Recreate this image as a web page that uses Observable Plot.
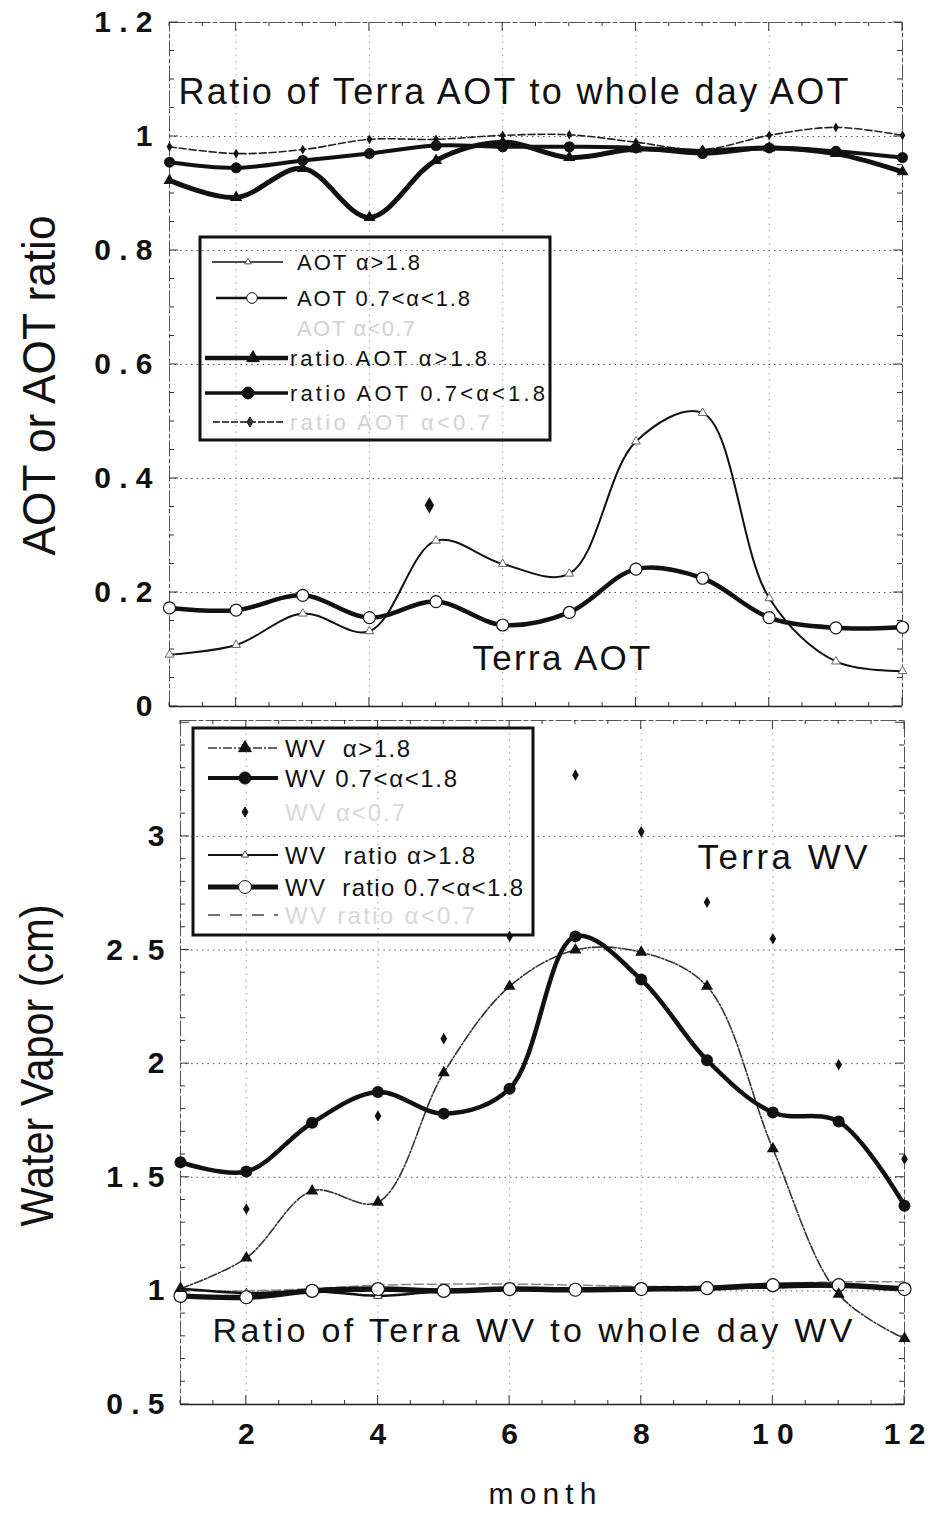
<!DOCTYPE html>
<html>
<head>
<meta charset="utf-8">
<script src="https://cdn.jsdelivr.net/npm/d3@7"></script>
<script src="https://cdn.jsdelivr.net/npm/@observablehq/plot@0.6"></script>
<style>
  html, body { margin: 0; padding: 0; background: #fff; }
  #wrap { position: relative; width: 935px; height: 1513px; overflow: hidden; background: #fff; }
  #top, #bot { position: absolute; left: 0; }
  #top { top: 0; }
  #bot { top: 712px; }
  text { white-space: pre; }
</style>
</head>
<body>
<div id="wrap"><div id="top"></div><div id="bot"></div></div>
<script>
// ---------------- data ----------------
const months = [1, 2, 3, 4, 5, 6, 7, 8, 9, 10, 11, 12];

// upper panel: Terra AOT and ratio of Terra AOT to whole-day AOT
const aotHigh      = [0.091, 0.108, 0.163, 0.132, 0.291, 0.250, 0.233, 0.465, 0.515, 0.190, 0.079, 0.062];
const aotMid       = [0.173, 0.169, 0.195, 0.156, 0.184, 0.143, 0.165, 0.241, 0.225, 0.156, 0.138, 0.139];
const ratioAotHigh = [0.923, 0.893, 0.944, 0.858, 0.958, 0.990, 0.963, 0.978, 0.974, 0.980, 0.970, 0.938];
const ratioAotMid  = [0.955, 0.945, 0.958, 0.970, 0.984, 0.982, 0.982, 0.980, 0.970, 0.980, 0.974, 0.963];
const ratioAotLow  = [0.982, 0.970, 0.977, 0.995, 0.995, 1.002, 1.003, 0.990, 0.977, 1.002, 1.016, 1.002];
const aotLowMonth  = [4.9];
const aotLowValue  = [0.353];

// lower panel: Terra water vapour and ratio of Terra WV to whole-day WV
const wvHigh      = [1.01, 1.145, 1.44, 1.39, 1.96, 2.34, 2.50, 2.49, 2.34, 1.625, 0.985, 0.79];
const wvMid       = [1.566, 1.525, 1.74, 1.875, 1.78, 1.89, 2.56, 2.37, 2.015, 1.785, 1.745, 1.375];
const wvLow       = [null, 1.36, null, 1.77, 2.11, 2.56, 3.27, 3.02, 2.71, 2.55, 1.995, 1.58];
const wvRatioHigh = [1.01, 0.99, 1.0, 0.978, 1.0, 1.005, 1.005, 1.005, 1.01, 1.015, 1.02, 1.015];
const wvRatioMid  = [0.978, 0.972, 1.0, 1.008, 1.0, 1.008, 1.005, 1.008, 1.012, 1.025, 1.025, 1.008];
const wvRatioLow  = [1.0, 1.0, 1.01, 1.025, 1.03, 1.03, 1.025, 1.02, 1.02, 1.03, 1.04, 1.04];

// ticks
const yTicksTop  = [0, 0.2, 0.4, 0.6, 0.8, 1, 1.2];
const yLabelsTop = ["0", "0 . 2", "0 . 4", "0 . 6", "0 . 8", "1", "1 . 2"];
const yTicksBot  = [0.5, 1, 1.5, 2, 2.5, 3];
const yLabelsBot = ["0 . 5", "1", "1 . 5", "2", "2 . 5", "3"];
const xTicks     = [2, 4, 6, 8, 10, 12];
const xLabels    = ["2", "4", "6", "8", "1 0", "1 2"];
const gridMonths = [2, 4, 6, 8, 10];

// texts
const titleTop = "Ratio of Terra AOT to whole day AOT";
const labelTop = "Terra AOT";
const titleBot = "Ratio of Terra WV to whole day WV";
const labelBot = "Terra WV";
const yTitleTop = "AOT or AOT ratio";
const yTitleBot = "Water Vapor (cm)";
const xTitle = "month";

const FONT = "'Liberation Sans', Arial, Helvetica, sans-serif";

function series(vals) {
  return months.map((m, i) => ({month: m, value: vals[i]})).filter(d => d.value != null);
}

// ---------------- decoration helpers ----------------
function frameTicks(plot, yStep, yMajor) {
  const svg = d3.select(plot);
  const sx = plot.scale("x"), sy = plot.scale("y");
  const [xa, xb] = sx.range; const [ya, yb] = sy.range;
  const [d0, d1] = sy.domain;
  const g = svg.append("g").attr("stroke", "#333").attr("stroke-width", 1);
  const n = Math.round((d1 - d0) / yStep);
  for (let i = 0; i <= n; i++) {
    const v = d0 + i * yStep;
    const major = Math.abs(Math.round(v / yMajor) * yMajor - v) < 1e-6;
    const L = major ? 9 : 5;
    const y = sy.apply(v);
    g.append("line").attr("x1", xa).attr("x2", xa + L).attr("y1", y).attr("y2", y);
    g.append("line").attr("x1", xb).attr("x2", xb - L).attr("y1", y).attr("y2", y);
  }
  for (let m = 1; m <= 12.001; m += 0.5) {
    const x = sx.apply(m);
    const L = (m % 2 === 0) ? 9 : 4;
    g.append("line").attr("x1", x).attr("x2", x).attr("y1", ya).attr("y2", ya - L);
    g.append("line").attr("x1", x).attr("x2", x).attr("y1", yb).attr("y2", yb + L);
  }
}

function fitTexts(plot, fits) {
  d3.select(plot).selectAll("text").each(function () {
    const t = this.textContent;
    if (fits[t]) {
      this.setAttribute("textLength", fits[t][0]);
      this.setAttribute("lengthAdjust", fits[t][1]);
    }
  });
}

function boldTicks(plot) {
  d3.select(plot).selectAll('g[aria-label$="tick label"] text').attr("font-weight", "bold");
}

function legend(plot, box, items) {
  const g = d3.select(plot).append("g").attr("text-anchor", "start");
  g.append("rect").attr("x", box.x).attr("y", box.y).attr("width", box.w).attr("height", box.h)
    .attr("fill", "none").attr("stroke", "#111").attr("stroke-width", 3);
  for (const it of items) {
    if (it.line) {
      g.append("line").attr("x1", it.x1).attr("x2", it.x2).attr("y1", it.y).attr("y2", it.y)
        .attr("stroke", it.line.color || "#111").attr("stroke-width", it.line.w)
        .attr("stroke-dasharray", it.line.dash || null);
    }
    if (it.marker) {
      const mk = it.marker;
      const type = {circle: d3.symbolCircle, triangle: d3.symbolTriangle, diamond: d3.symbolDiamond}[mk.shape];
      g.append("path").attr("d", d3.symbol(type, mk.size)())
        .attr("transform", `translate(${it.mx},${it.y})`)
        .attr("fill", mk.fill).attr("stroke", mk.stroke || "#111").attr("stroke-width", mk.sw || 1);
    }
    const t = g.append("text").attr("x", it.tx).attr("y", it.y).attr("dy", "0.36em")
      .attr("text-anchor", "start")
      .attr("font-size", it.fs).attr("fill", it.color || "#111").attr("font-family", FONT)
      .text(it.text);
    if (it.len) t.attr("textLength", it.len).attr("lengthAdjust", "spacing");
  }
}

// ---------------- upper panel ----------------
const topPlot = Plot.plot({
  width: 935, height: 712,
  marginLeft: 169, marginRight: 33, marginTop: 22, marginBottom: 6,
  style: {fontFamily: FONT, fontSize: "30px", background: "transparent", overflow: "visible", color: "#111"},
  x: {domain: [1, 12], axis: null},
  y: {domain: [0, 1.2], ticks: yTicksTop, tickFormat: d => yLabelsTop[yTicksTop.indexOf(d)], tickSize: 0, tickPadding: 17, label: null},
  marks: [
    Plot.ruleY(yTicksTop.slice(1, -1), {stroke: "#555", strokeDasharray: "1.5,4", strokeWidth: 1}),
    Plot.ruleX(gridMonths, {stroke: "#777", strokeDasharray: "1.5,5", strokeWidth: 1, strokeOpacity: 0.7}),
    Plot.frame({stroke: "#555", strokeWidth: 1, strokeDasharray: "16,2,5,2"}),
    Plot.ruleY([0], {stroke: "#222", strokeWidth: 1.5}),
    Plot.text([titleTop], {text: d => d, frameAnchor: "top-left", textAnchor: "start", lineAnchor: "middle", dx: 9, dy: 70, fontSize: 36, fill: "#111"}),
    Plot.text([labelTop], {text: d => d, frameAnchor: "top-left", textAnchor: "start", lineAnchor: "middle", dx: 303, dy: 636, fontSize: 35, fill: "#111"}),
    Plot.text([yTitleTop], {text: d => d, frameAnchor: "left", textAnchor: "middle", lineAnchor: "middle", rotate: -90, dx: -129, dy: 21, fontSize: 46, fill: "#111"}),
    Plot.line(series(aotHigh), {x: "month", y: "value", curve: "catmull-rom", stroke: "#111", strokeWidth: 2}),
    Plot.line(series(aotMid), {x: "month", y: "value", curve: "catmull-rom", stroke: "#111", strokeWidth: 4.5}),
    Plot.line(series(ratioAotLow), {x: "month", y: "value", curve: "catmull-rom", stroke: "#222", strokeWidth: 1.6, strokeDasharray: "7,3"}),
    Plot.line(series(ratioAotHigh), {x: "month", y: "value", curve: "catmull-rom", stroke: "#111", strokeWidth: 5}),
    Plot.line(series(ratioAotMid), {x: "month", y: "value", curve: "catmull-rom", stroke: "#111", strokeWidth: 4}),
    Plot.dot(series(ratioAotLow), {x: "month", y: "value", symbol: "diamond", r: 3, fill: "#111", stroke: "none"}),
    Plot.dot(series(ratioAotHigh), {x: "month", y: "value", symbol: "triangle", r: 4.5, fill: "#111", stroke: "none"}),
    Plot.dot(series(ratioAotMid), {x: "month", y: "value", symbol: "circle", r: 5.5, fill: "#111", stroke: "none"}),
    Plot.dot(series(aotHigh), {x: "month", y: "value", symbol: "triangle", r: 3.2, fill: "white", stroke: "#666", strokeWidth: 1}),
    Plot.dot(series(aotMid), {x: "month", y: "value", symbol: "circle", r: 6, fill: "white", stroke: "#111", strokeWidth: 1.2}),
    Plot.dot(aotLowMonth.map((m, i) => ({month: m, value: aotLowValue[i]})), {x: "month", y: "value", symbol: "diamond", r: 5, fill: "#111", stroke: "none"})
  ]
});
frameTicks(topPlot, 0.05, 0.2);
boldTicks(topPlot);
fitTexts(topPlot, {
  [titleTop]: [670, "spacing"],
  [labelTop]: [178, "spacing"],
  [yTitleTop]: [340, "spacingAndGlyphs"]
});
legend(topPlot, {x: 200, y: 237, w: 350, h: 203}, [
  {y: 262, x1: 212, x2: 283, line: {w: 1.6}, mx: 248, marker: {shape: "triangle", size: 18, fill: "white", stroke: "#555"}, tx: 297, fs: 22, text: "AOT α>1.8", len: 123},
  {y: 298, x1: 216, x2: 287, line: {w: 2.5}, mx: 252, marker: {shape: "circle", size: 90, fill: "white", stroke: "#111"}, tx: 297, fs: 22, text: "AOT 0.7<α<1.8", len: 173},
  {y: 328, tx: 297, fs: 22, text: "AOT α<0.7", color: "#d2d2d2", len: 118},
  {y: 358, x1: 205, x2: 288, line: {w: 4.5}, mx: 253, marker: {shape: "triangle", size: 70, fill: "#111"}, tx: 290, fs: 22, text: "ratio AOT α>1.8", len: 197},
  {y: 393, x1: 205, x2: 288, line: {w: 3.5}, mx: 248, marker: {shape: "circle", size: 110, fill: "#111"}, tx: 290, fs: 22, text: "ratio AOT 0.7<α<1.8", len: 255},
  {y: 422, x1: 213, x2: 283, line: {w: 1.5, dash: "7,2"}, mx: 250, marker: {shape: "diamond", size: 30, fill: "#333"}, tx: 290, fs: 22, text: "ratio AOT α<0.7", color: "#d2d2d2", len: 200}
]);
document.getElementById("top").append(topPlot);

// ---------------- lower panel ----------------
const botPlot = Plot.plot({
  width: 935, height: 801,
  marginLeft: 180, marginRight: 31, marginTop: 8, marginBottom: 109,
  style: {fontFamily: FONT, fontSize: "30px", background: "transparent", overflow: "visible", color: "#111"},
  x: {domain: [1, 12], ticks: xTicks, tickFormat: d => xLabels[xTicks.indexOf(d)], tickSize: 0, tickPadding: 18, label: null},
  y: {domain: [0.5, 3.51], ticks: yTicksBot, tickFormat: d => yLabelsBot[yTicksBot.indexOf(d)], tickSize: 0, tickPadding: 16, label: null},
  marks: [
    Plot.ruleY(yTicksBot.slice(1), {stroke: "#555", strokeDasharray: "1.5,4", strokeWidth: 1}),
    Plot.ruleX(gridMonths, {stroke: "#777", strokeDasharray: "1.5,5", strokeWidth: 1, strokeOpacity: 0.7}),
    Plot.frame({stroke: "#555", strokeWidth: 1, strokeDasharray: "16,2,5,2"}),
    Plot.ruleY([0.5], {stroke: "#222", strokeWidth: 1.5}),
    Plot.text([labelBot], {text: d => d, frameAnchor: "top-left", textAnchor: "start", lineAnchor: "middle", dx: 517, dy: 137, fontSize: 35, fill: "#111"}),
    Plot.text([titleBot], {text: d => d, frameAnchor: "top-left", textAnchor: "start", lineAnchor: "middle", dx: 32, dy: 611, fontSize: 34, fill: "#111"}),
    Plot.text([yTitleBot], {text: d => d, frameAnchor: "left", textAnchor: "middle", lineAnchor: "middle", rotate: -90, dx: -142, dy: 3, fontSize: 46, fill: "#111"}),
    Plot.text([xTitle], {text: d => d, frameAnchor: "bottom", textAnchor: "middle", lineAnchor: "middle", dx: 0, dy: 90, fontSize: 30, fill: "#111"}),
    Plot.line(series(wvRatioLow), {x: "month", y: "value", curve: "catmull-rom", stroke: "#888", strokeWidth: 1.5, strokeDasharray: "9,4"}),
    Plot.line(series(wvRatioHigh), {x: "month", y: "value", curve: "catmull-rom", stroke: "#111", strokeWidth: 2.5}),
    Plot.line(series(wvRatioMid), {x: "month", y: "value", curve: "catmull-rom", stroke: "#111", strokeWidth: 5.5}),
    Plot.line(series(wvHigh), {x: "month", y: "value", curve: "catmull-rom", stroke: "#333", strokeWidth: 1.6, strokeDasharray: "9,2,2,2"}),
    Plot.line(series(wvMid), {x: "month", y: "value", curve: "catmull-rom", stroke: "#111", strokeWidth: 4.5}),
    Plot.dot(series(wvLow), {x: "month", y: "value", symbol: "diamond", r: 3.5, fill: "#111", stroke: "none"}),
    Plot.dot(series(wvRatioHigh), {x: "month", y: "value", symbol: "triangle", r: 3.2, fill: "white", stroke: "#333", strokeWidth: 1}),
    Plot.dot(series(wvRatioMid), {x: "month", y: "value", symbol: "circle", r: 6.5, fill: "white", stroke: "#111", strokeWidth: 1.2}),
    Plot.dot(series(wvHigh), {x: "month", y: "value", symbol: "triangle", r: 4.5, fill: "#111", stroke: "none"}),
    Plot.dot(series(wvMid), {x: "month", y: "value", symbol: "circle", r: 6, fill: "#111", stroke: "none"})
  ]
});
frameTicks(botPlot, 0.1, 0.5);
boldTicks(botPlot);
fitTexts(botPlot, {
  [titleBot]: [640, "spacing"],
  [labelBot]: [170, "spacing"],
  [yTitleBot]: [322, "spacingAndGlyphs"],
  [xTitle]: [108, "spacing"]
});
legend(botPlot, {x: 193, y: 16, w: 340, h: 207}, [
  {y: 36, x1: 208, x2: 278, line: {w: 1.6, dash: "9,2,2,2", color: "#333"}, mx: 245, marker: {shape: "triangle", size: 70, fill: "#111"}, tx: 285, fs: 24, text: "WV  α>1.8", len: 125},
  {y: 66, x1: 208, x2: 278, line: {w: 4}, mx: 245, marker: {shape: "circle", size: 115, fill: "#111"}, tx: 285, fs: 24, text: "WV 0.7<α<1.8", len: 172},
  {y: 100, mx: 245, marker: {shape: "diamond", size: 30, fill: "#111"}, tx: 285, fs: 24, text: "WV α<0.7", color: "#d8d8d8", len: 120},
  {y: 143, x1: 208, x2: 278, line: {w: 2.2}, mx: 245, marker: {shape: "triangle", size: 22, fill: "white", stroke: "#444"}, tx: 285, fs: 24, text: "WV  ratio α>1.8", len: 190},
  {y: 175, x1: 208, x2: 278, line: {w: 5}, mx: 245, marker: {shape: "circle", size: 130, fill: "white", stroke: "#111"}, tx: 285, fs: 24, text: "WV  ratio 0.7<α<1.8", len: 238},
  {y: 203, x1: 208, x2: 278, line: {w: 1.5, dash: "12,10", color: "#444"}, tx: 285, fs: 24, text: "WV ratio α<0.7", color: "#d8d8d8", len: 190}
]);
document.getElementById("bot").append(botPlot);
</script>
</body>
</html>
